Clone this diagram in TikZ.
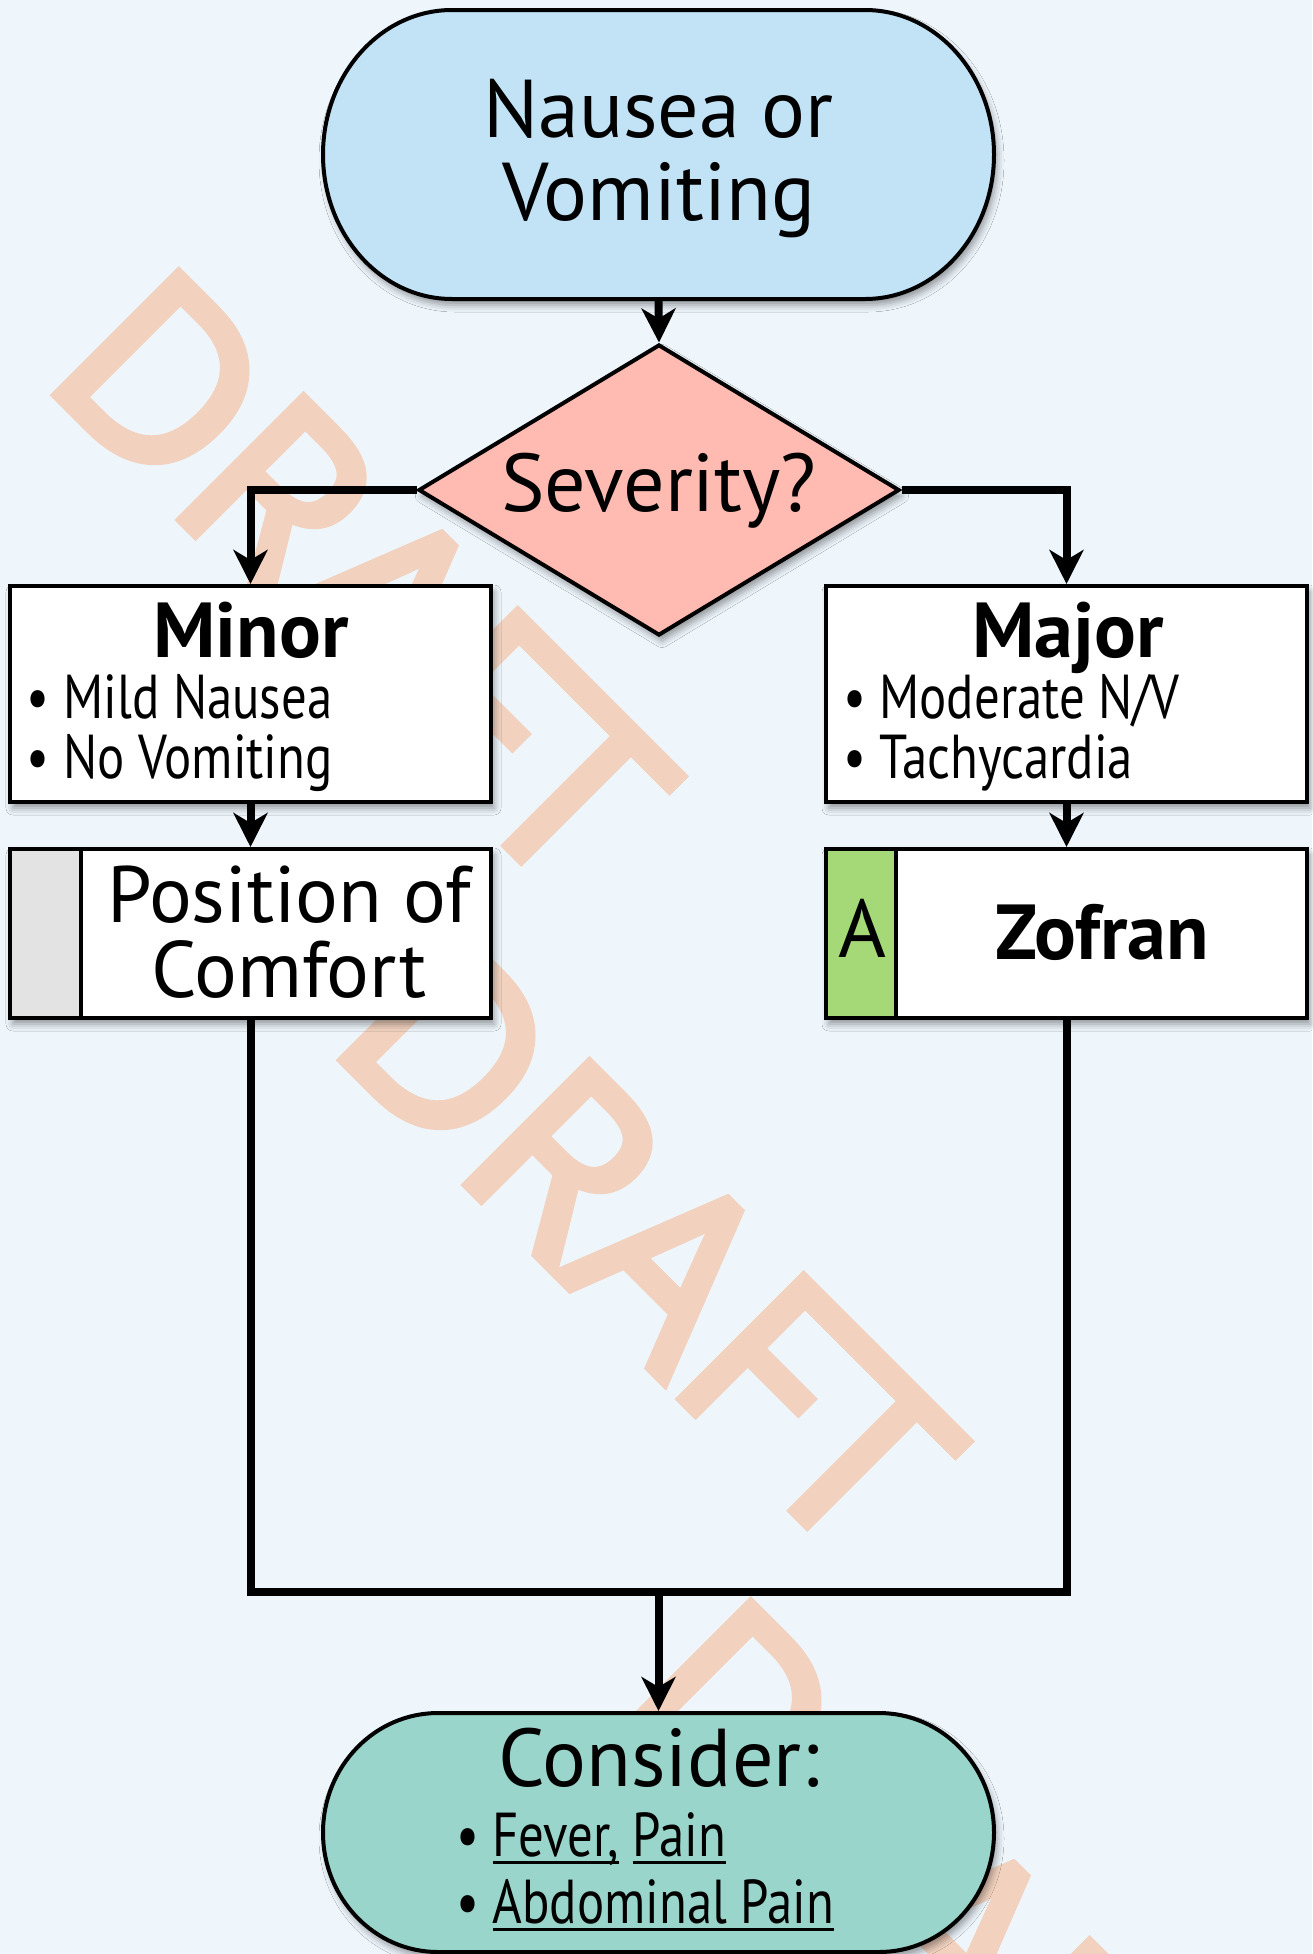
\documentclass[tikz,border=0pt]{standalone}
\usepackage{fontspec}
\setmainfont{PT Sans}
\newfontfamily\narrowfont[FakeStretch=0.82]{PT Sans}
\newfontfamily\wmfont[FakeBold=4]{Open Sans}
\usetikzlibrary{shapes.geometric,arrows.meta,shadows.blur}
\definecolor{bgc}{HTML}{EEF6FC}
\definecolor{termblue}{HTML}{C1E3F5}
\definecolor{diamc}{HTML}{FFBBB1}
\definecolor{termgreen}{HTML}{9AD5CB}
\definecolor{stripgreen}{HTML}{A5D877}
\definecolor{stripgray}{HTML}{E3E3E3}
\definecolor{wmc}{HTML}{F2D2BF}
\newcommand\myul[1]{\setbox0\hbox{#1}\rlap{\rule[-8pt]{\wd0}{3.5pt}}\box0\relax}
\tikzset{
  border/.style={draw=black, line width=4pt},
  shadowed/.style={blur shadow={shadow xshift=3pt, shadow yshift=-6pt, shadow blur radius=7pt, shadow opacity=40}},
  boxnode/.style={rectangle, border, fill=white, shadowed, minimum width=481pt, inner sep=0pt, outer sep=2pt},
  shapeonly/.style={inner sep=0pt, outer sep=2pt},
  lbl/.style={inner sep=0pt, outer sep=0pt, text=black},
  bigtxt/.style={lbl, font=\fontsize{82}{83}\selectfont},
  boldtxt/.style={lbl, font=\fontsize{78}{80}\selectfont\bfseries},
  bullettxt/.style={lbl, font=\narrowfont\fontsize{62}{62}\selectfont},
  conn/.style={line width=8pt, draw=black},
  arr/.style={conn, -{Stealth[length=34pt, width=34pt, inset=10pt]}},
  wm/.style={lbl, text=wmc, rotate=-45, font=\wmfont\fontsize{242}{242}\selectfont},
}
\begin{document}
\begin{tikzpicture}[x=1pt,y=1pt]
\fill[bgc] (0,0) rectangle (1312,-1954);
\useasboundingbox (0,0) rectangle (1312,-1954);
% watermark
\node[wm] (wm1) at (362,-578) {DRAFT};
\node[wm] (wm2) at (648,-1243) {DRAFT};
\node[wm] (wm3) at (934,-1908) {DRAFT};
% start terminator
\path[border, fill=termblue, shadowed] (452,-10) -- (865,-10)
  arc[start angle=90, end angle=-90, x radius=129pt, y radius=144.5pt]
  -- (452,-299) arc[start angle=270, end angle=90, x radius=129pt, y radius=144.5pt] -- cycle;
\node[shapeonly, minimum width=671pt, minimum height=289pt] (start) at (658.5,-154.5) {};
\node[bigtxt, anchor=base] (startA) at (658.5,-137) {Nausea or};
\node[bigtxt, anchor=base] (startB) at (658.5,-220) {Vomiting};
% decision
\node[diamond, aspect=1.65, border, fill=diamc, shadowed, inner sep=0pt, outer sep=2pt,
      minimum width=481pt, minimum height=291pt] (sev) at (659,-490) {};
\node[bigtxt, anchor=base] (sevT) at (659,-511) {Severity?};
% minor / major
\node[boxnode, minimum height=216pt] (minor) at (250.5,-694) {};
\node[boldtxt, anchor=base] (minorT) at (251,-657) {Minor};
\node[bullettxt, anchor=base west] (minor1) at (27,-718) {• Mild Nausea};
\node[bullettxt, anchor=base west] (minor2) at (27,-778) {• No Vomiting};
\node[boxnode, minimum height=216pt] (major) at (1066.5,-694) {};
\node[boldtxt, anchor=base] (majorT) at (1068,-657) {Major};
\node[bullettxt, anchor=base west] (major1) at (843,-718) {• Moderate N/V};
\node[bullettxt, anchor=base west] (major2) at (843,-778) {• Tachycardia};
% action boxes
\node[boxnode, minimum height=169pt] (pos) at (250.5,-933.5) {};
\fill[stripgray] ([shift={(2pt,-2pt)}]pos.north west) rectangle ([shift={(73pt,2pt)}]pos.south west);
\draw[line width=4pt] ([xshift=73pt]pos.north west) -- ([xshift=73pt]pos.south west);
\draw[border, fill=none] ([shift={(2pt,-2pt)}]pos.north west) rectangle ([shift={(-2pt,2pt)}]pos.south east);
\node[bigtxt, anchor=base, font=\fontsize{80}{80}\selectfont] (posA) at (289,-922) {Position of};
\node[bigtxt, anchor=base, font=\fontsize{80}{80}\selectfont] (posB) at (289,-997) {Comfort};
\node[boxnode, minimum height=169pt] (zof) at (1066.5,-933.5) {};
\fill[stripgreen] ([shift={(2pt,-2pt)}]zof.north west) rectangle ([shift={(72pt,2pt)}]zof.south west);
\draw[line width=4pt] ([xshift=72pt]zof.north west) -- ([xshift=72pt]zof.south west);
\draw[border, fill=none] ([shift={(2pt,-2pt)}]zof.north west) rectangle ([shift={(-2pt,2pt)}]zof.south east);
\node[bigtxt, anchor=base] (zofA) at (862,-957) {A};
\node[boldtxt, anchor=base] (zofT) at (1102,-959) {Zofran};
% end terminator
\path[border, fill=termgreen, shadowed] (438,-1713) -- (879,-1713)
  arc[start angle=90, end angle=-90, x radius=115pt, y radius=119.5pt]
  -- (438,-1952) arc[start angle=270, end angle=90, x radius=115pt, y radius=119.5pt] -- cycle;
\node[shapeonly, minimum width=671pt, minimum height=239pt] (cons) at (658.5,-1832.5) {};
\node[bigtxt, anchor=base] (consT) at (659,-1786) {Consider:};
\node[bullettxt, anchor=base west] (cons1) at (456,-1856) {• \myul{Fever,} \myul{Pain}};
\node[bullettxt, anchor=base west] (cons2) at (456,-1923) {• \myul{Abdominal Pain}};
% connectors
\draw[arr] (start.south) -- (sev.north);
\draw[arr] (sev.west) -| (minor.north);
\draw[arr] (sev.east) -| (major.north);
\draw[arr] (minor.south) -- (pos.north);
\draw[arr] (major.south) -- (zof.north);
\coordinate (mg) at (658.5,-1592);
\draw[conn] (pos.south) |- (mg) -| (zof.south);
\draw[arr] (mg) -- (cons.north);
\end{tikzpicture}
\end{document}
